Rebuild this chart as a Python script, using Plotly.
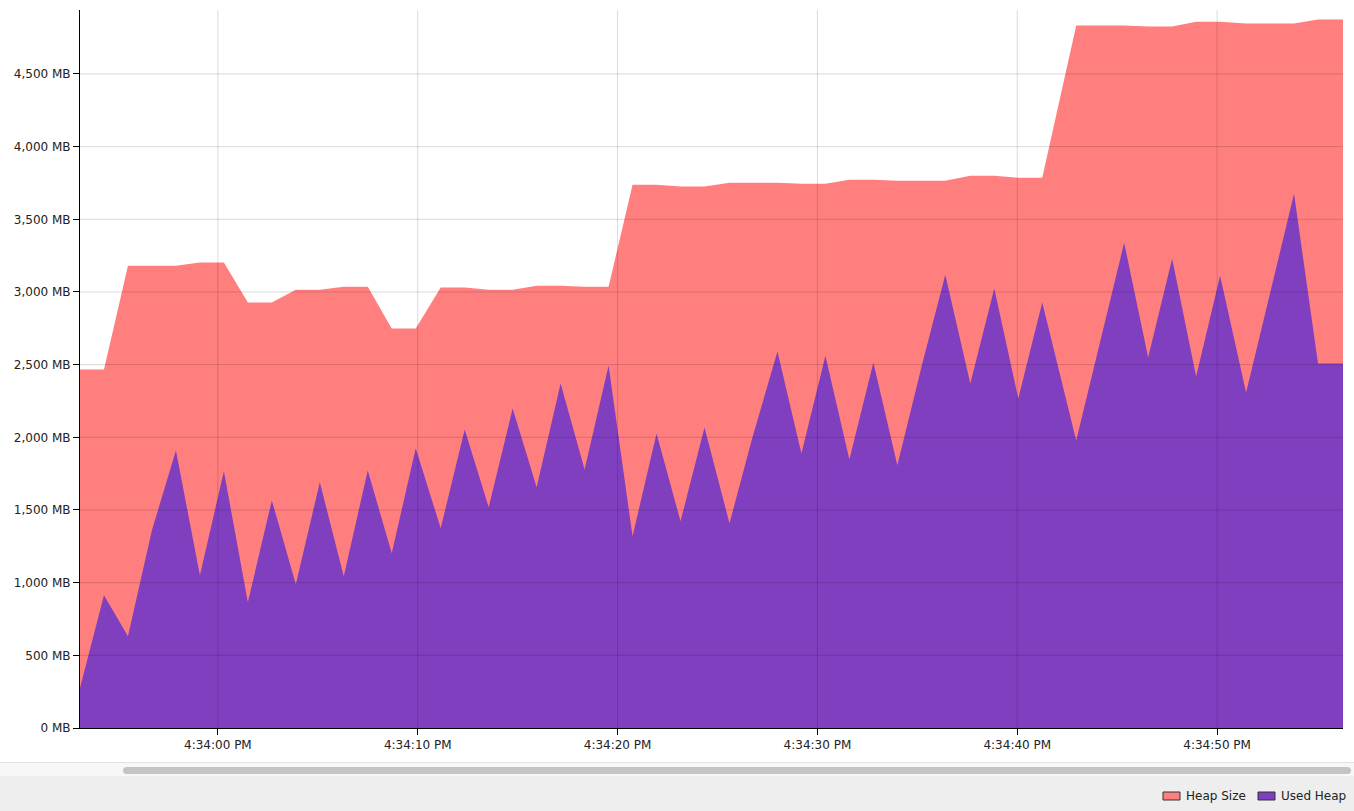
import plotly.graph_objects as go

# sample times (4:33:53 PM .. 4:34:56 PM)
times = [
    "16:33:53.10", "16:33:54.30", "16:33:55.50", "16:33:56.70", "16:33:57.90",
    "16:33:59.10", "16:34:00.30", "16:34:01.50", "16:34:02.70", "16:34:03.90",
    "16:34:05.10", "16:34:06.30", "16:34:07.50", "16:34:08.70", "16:34:09.90",
    "16:34:11.15", "16:34:12.35", "16:34:13.55", "16:34:14.75", "16:34:15.95",
    "16:34:17.15", "16:34:18.35", "16:34:19.55", "16:34:20.75", "16:34:21.95",
    "16:34:23.15", "16:34:24.35", "16:34:25.60", "16:34:26.75", "16:34:28.00",
    "16:34:29.20", "16:34:30.40", "16:34:31.60", "16:34:32.80", "16:34:34.00",
    "16:34:35.25", "16:34:36.40", "16:34:37.65", "16:34:38.85", "16:34:40.05",
    "16:34:41.25", "16:34:42.95", "16:34:45.35", "16:34:46.55", "16:34:47.75",
    "16:34:48.95", "16:34:50.15", "16:34:51.45", "16:34:53.85", "16:34:55.05",
    "16:34:56.30",
]

heap_size = [
    2466, 2466, 3181, 3181, 3181, 3202, 3202, 2928, 2928, 3016,
    3016, 3036, 3036, 2748, 2748, 3030, 3030, 3016, 3016, 3043,
    3043, 3036, 3036, 3737, 3737, 3725, 3725, 3751, 3751, 3751,
    3744, 3744, 3772, 3772, 3765, 3765, 3765, 3799, 3799, 3786,
    3786, 4833, 4833, 4826, 4826, 4860, 4860, 4847, 4847, 4874,
    4874,
]

used_heap = [
    275, 914, 632, 1360, 1910, 1051, 1766, 866, 1566, 989,
    1690, 1044, 1772, 1202, 1924, 1374, 2054, 1518, 2198, 1656,
    2370, 1779, 2494, 1319, 2027, 1422, 2068, 1408, 2000, 2590,
    1889, 2562, 1848, 2514, 1807, 2507, 3119, 2370, 3023, 2267,
    2927, 1978, 3339, 2549, 3229, 2418, 3112, 2308, 3675, 2508,
    2508,
]

y_ticks = [0, 500, 1000, 1500, 2000, 2500, 3000, 3500, 4000, 4500]
y_labels = ["0 MB", "500 MB", "1,000 MB", "1,500 MB", "2,000 MB",
            "2,500 MB", "3,000 MB", "3,500 MB", "4,000 MB", "4,500 MB"]
x_ticks = ["16:34:00", "16:34:10", "16:34:20", "16:34:30", "16:34:40", "16:34:50"]
x_labels = ["4:34:00 PM", "4:34:10 PM", "4:34:20 PM", "4:34:30 PM",
            "4:34:40 PM", "4:34:50 PM"]

DAY = "2024-01-01 "
x = [DAY + t for t in times]

HEAP_COLOR = "#FF7F7F"
USED_COLOR = "#7F3FBF"
FONT = "DejaVu Sans"

W, H = 1354, 811
PLOT_L, PLOT_R, PLOT_T, PLOT_B = 80, 1343, 10, 728
PW, PH = PLOT_R - PLOT_L, PLOT_B - PLOT_T


def px(p):
    return (p - PLOT_L) / PW


def py(p):
    return (PLOT_B - p) / PH


fig = go.Figure()
fig.add_trace(go.Scatter(x=x, y=heap_size, name="Heap Size", mode="lines",
                         fill="tozeroy", fillcolor=HEAP_COLOR,
                         line=dict(width=0, color=HEAP_COLOR),
                         showlegend=False, hoverinfo="x+y"))
fig.add_trace(go.Scatter(x=x, y=used_heap, name="Used Heap", mode="lines",
                         fill="tozeroy", fillcolor=USED_COLOR,
                         line=dict(width=0, color=USED_COLOR),
                         showlegend=False, hoverinfo="x+y"))

# grid drawn over the areas, like the original
grid = "rgba(0,0,0,0.15)"
for v in y_ticks[1:]:
    fig.add_hline(y=v, line=dict(color=grid, width=1), layer="above")
for t in x_ticks:
    fig.add_vline(x=DAY + t, line=dict(color=grid, width=1), layer="above")

shapes = []
# scrollbar track and bottom panel
shapes.append(dict(type="rect", xref="paper", yref="paper",
                   x0=px(0), x1=px(W), y0=py(762), y1=py(776),
                   fillcolor="#f7f7f7", line=dict(width=0)))
shapes.append(dict(type="line", xref="paper", yref="paper",
                   x0=px(0), x1=px(W), y0=py(762.5), y1=py(762.5),
                   line=dict(color="#e2e2e2", width=1)))
shapes.append(dict(type="rect", xref="paper", yref="paper",
                   x0=px(0), x1=px(W), y0=py(776), y1=py(H),
                   fillcolor="#eeeeee", line=dict(width=0)))
# scrollbar thumb
shapes.append(dict(type="rect", xref="paper", yref="paper",
                   x0=px(126.5), x1=px(1347.5), y0=py(767), y1=py(774),
                   fillcolor="#c4c4c4", line=dict(width=0)))
for cx in (126.5, 1347.5):
    shapes.append(dict(type="circle", xref="paper", yref="paper",
                       xsizemode="pixel", ysizemode="pixel",
                       xanchor=px(cx), yanchor=py(770.5),
                       x0=-3.5, x1=3.5, y0=-3.5, y1=3.5,
                       fillcolor="#c4c4c4", line=dict(width=0)))

# legend
legend_items = [("Heap Size", HEAP_COLOR, 1163), ("Used Heap", USED_COLOR, 1258)]
annotations = []
for label, color, x0 in legend_items:
    shapes.append(dict(type="rect", xref="paper", yref="paper",
                       x0=px(x0), x1=px(x0 + 17), y0=py(792), y1=py(800),
                       fillcolor=color, line=dict(color="#333333", width=1)))
    annotations.append(dict(text=label, xref="paper", yref="paper",
                            x=px(x0 + 21), y=py(796), xanchor="left",
                            yanchor="middle", showarrow=False,
                            font=dict(family=FONT, size=12, color="#222222")))

for s in shapes:
    fig.add_shape(**s)

fig.update_layout(
    width=W, height=H,
    margin=dict(l=PLOT_L, r=W - PLOT_R, t=PLOT_T, b=H - PLOT_B),
    paper_bgcolor="white", plot_bgcolor="white",
    font=dict(family=FONT, size=12, color="#222222"),
    annotations=annotations,
    showlegend=False,
)
fig.update_xaxes(
    type="date", range=[x[0], x[-1]],
    tickvals=[DAY + t for t in x_ticks], ticktext=x_labels,
    showgrid=False, zeroline=False,
    showline=True, linecolor="black", linewidth=1,
    ticks="outside", ticklen=6, tickcolor="black",
    layer="above traces",
)
fig.update_yaxes(
    range=[0, 4940],
    tickvals=y_ticks, ticktext=y_labels,
    showgrid=False, zeroline=False,
    showline=True, linecolor="black", linewidth=1,
    ticks="outside", ticklen=6, tickcolor="black",
    layer="above traces",
)

# drop the default body margin so the figure fills the window
fig.write_html("out.html",
               config={"displayModeBar": False},
               post_script="document.body.style.margin='0';"
                           "document.body.style.overflow='hidden';")
